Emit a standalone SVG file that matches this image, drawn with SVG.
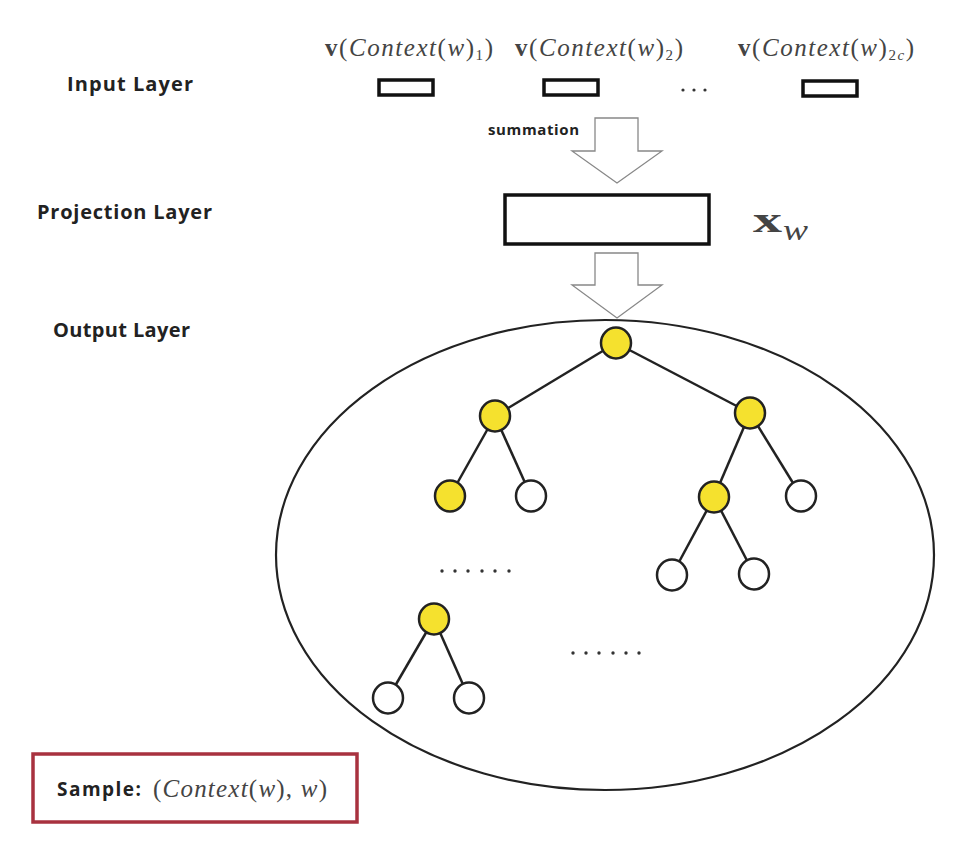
<svg xmlns="http://www.w3.org/2000/svg" width="964" height="862" viewBox="0 0 964 862">
<style>
.lbl{font-family:"Open Sans","Noto Sans","Liberation Sans",sans-serif;font-weight:bold;fill:#222;}
.math{font-family:"Liberation Serif","DejaVu Serif",serif;fill:#444;}
.it{font-style:italic;}
.bf{font-weight:bold;}
.inbox{fill:#fff;stroke:#111;stroke-width:3.5;}
.barrow{fill:#fff;stroke:#888;stroke-width:1.3;stroke-linejoin:miter;}
.edge{stroke:#222;stroke-width:2.5;fill:none;}
.y{fill:#f5e12e;stroke:#222;stroke-width:2.5;}
.w{fill:#fff;stroke:#222;stroke-width:2.5;}
.dot{fill:#333;}
</style>
<rect width="964" height="862" fill="#fff"/>

<g id="labels">
<text class="lbl" x="67" y="91" font-size="20" textLength="126" lengthAdjust="spacing">Input  Layer</text>
<text class="lbl" x="37" y="219" font-size="20" textLength="175" lengthAdjust="spacing">Projection  Layer</text>
<text class="lbl" x="53" y="337" font-size="20" textLength="137" lengthAdjust="spacing">Output Layer</text>
</g>

<g id="input-layer">
<text class="math" x="325" y="56" font-size="25" textLength="168" lengthAdjust="spacing"><tspan class="bf">v</tspan>(<tspan class="it">Context</tspan>(<tspan class="it">w</tspan>)<tspan font-size="15" dy="4">1</tspan><tspan dy="-4">)</tspan></text>
<text class="math" x="515" y="56" font-size="25" textLength="168" lengthAdjust="spacing"><tspan class="bf">v</tspan>(<tspan class="it">Context</tspan>(<tspan class="it">w</tspan>)<tspan font-size="15" dy="4">2</tspan><tspan dy="-4">)</tspan></text>
<text class="math" x="738" y="56" font-size="25" textLength="176" lengthAdjust="spacing"><tspan class="bf">v</tspan>(<tspan class="it">Context</tspan>(<tspan class="it">w</tspan>)<tspan font-size="15" dy="4">2<tspan class="it">c</tspan></tspan><tspan dy="-4">)</tspan></text>
<rect id="in1" class="inbox" x="379" y="80" width="54" height="15"/>
<rect id="in2" class="inbox" x="544" y="80" width="54" height="15"/>
<rect id="in3" class="inbox" x="803" y="81" width="54" height="15"/>
<circle class="dot" cx="683" cy="90" r="1.6"/>
<circle class="dot" cx="694" cy="90" r="1.6"/>
<circle class="dot" cx="705" cy="90" r="1.6"/>
</g>

<g id="summation-arrow">
<path class="barrow" d="M595,118 L638,118 L638,151 L662,151 L617,183 L572,151 L595,151 Z"/>
<text class="lbl" x="488" y="135" font-size="15" textLength="91" lengthAdjust="spacing">summation</text>
</g>

<g id="projection-layer">
<rect class="inbox" x="505" y="195" width="204" height="49" stroke-width="4"/>
<text class="math bf" x="753" y="232" font-size="36" fill="#333" textLength="29" lengthAdjust="spacingAndGlyphs">x</text>
<text class="math it" x="783" y="240" font-size="30" fill="#333" textLength="25" lengthAdjust="spacingAndGlyphs">w</text>
</g>

<g id="output-arrow">
<path class="barrow" d="M595,253 L638,253 L638,285 L662,285 L617,318 L572,285 L595,285 Z"/>
</g>

<g id="output-layer">
<ellipse cx="605" cy="555" rx="329" ry="235" fill="none" stroke="#222" stroke-width="2.2"/>
</g>

<g id="connectors">
<line class="edge" x1="616" y1="343" x2="495" y2="416"/>
<line class="edge" x1="616" y1="343" x2="750" y2="413"/>
<line class="edge" x1="495" y1="416" x2="450" y2="496"/>
<line class="edge" x1="495" y1="416" x2="531" y2="496"/>
<line class="edge" x1="750" y1="413" x2="714" y2="497"/>
<line class="edge" x1="750" y1="413" x2="801" y2="496"/>
<line class="edge" x1="714" y1="497" x2="672" y2="575"/>
<line class="edge" x1="714" y1="497" x2="754" y2="574"/>
<line class="edge" x1="434" y1="619" x2="388" y2="698"/>
<line class="edge" x1="434" y1="619" x2="469" y2="698"/>
</g>

<g id="n-root"><ellipse class="y" cx="616" cy="343" rx="15" ry="15.5"/></g>
<g id="n-l"><ellipse class="y" cx="495" cy="416" rx="15" ry="15.5"/></g>
<g id="n-r"><ellipse class="y" cx="750" cy="413" rx="15" ry="15.5"/></g>
<g id="n-ll"><ellipse class="y" cx="450" cy="496" rx="15" ry="15.5"/></g>
<g id="n-lr"><ellipse class="w" cx="531" cy="496" rx="15" ry="15.5"/></g>
<g id="n-rl"><ellipse class="y" cx="714" cy="497" rx="15" ry="15.5"/></g>
<g id="n-rr"><ellipse class="w" cx="801" cy="496" rx="15" ry="15.5"/></g>
<g id="n-rll"><ellipse class="w" cx="672" cy="575" rx="15" ry="15.5"/></g>
<g id="n-rlr"><ellipse class="w" cx="754" cy="574" rx="15" ry="15.5"/></g>
<g id="n-b"><ellipse class="y" cx="434" cy="619" rx="15" ry="15.5"/></g>
<g id="n-bl"><ellipse class="w" cx="388" cy="698" rx="15" ry="15.5"/></g>
<g id="n-br"><ellipse class="w" cx="469" cy="698" rx="15" ry="15.5"/></g>

<g id="ellipsis1">
<circle class="dot" cx="442" cy="571" r="1.7"/><circle class="dot" cx="455" cy="571" r="1.7"/><circle class="dot" cx="468" cy="571" r="1.7"/><circle class="dot" cx="482" cy="571" r="1.7"/><circle class="dot" cx="495" cy="571" r="1.7"/><circle class="dot" cx="509" cy="571" r="1.7"/>
</g>
<g id="ellipsis2">
<circle class="dot" cx="573" cy="653" r="1.7"/><circle class="dot" cx="586" cy="653" r="1.7"/><circle class="dot" cx="599" cy="653" r="1.7"/><circle class="dot" cx="613" cy="653" r="1.7"/><circle class="dot" cx="626" cy="653" r="1.7"/><circle class="dot" cx="639" cy="653" r="1.7"/>
</g>

<g id="sample">
<rect x="33" y="754" width="324" height="68" fill="#fff" stroke="#a8323f" stroke-width="3.5"/>
<text class="lbl" x="57" y="796" font-size="19" textLength="84" lengthAdjust="spacing">Sample:</text>
<text class="math" x="153" y="797" font-size="25" textLength="174" lengthAdjust="spacing"><tspan>(</tspan><tspan class="it">Context</tspan>(<tspan class="it">w</tspan>), <tspan class="it">w</tspan>)</text>
</g>
</svg>
